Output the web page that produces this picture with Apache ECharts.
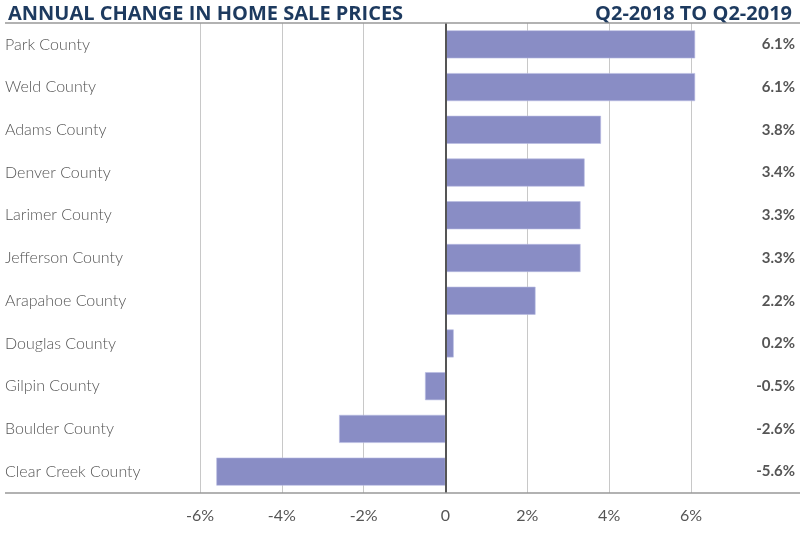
<!DOCTYPE html>
<html><head><meta charset="utf-8">
<script src="https://cdn.jsdelivr.net/npm/echarts@6/dist/echarts.min.js"></script>
<style>html,body{margin:0;padding:0;background:#fff}#c{width:800px;height:540px}</style>
</head><body><div id="c"></div>
<script>
const counties = ["Park County","Weld County","Adams County","Denver County","Larimer County","Jefferson County","Arapahoe County","Douglas County","Gilpin County","Boulder County","Clear Creek County"];
const changes = [6.1, 6.1, 3.8, 3.4, 3.3, 3.3, 2.2, 0.2, -0.5, -2.6, -5.6];
const titleText = "ANNUAL CHANGE IN HOME SALE PRICES";
const periodText = "Q2-2018 TO Q2-2019";

const chart = echarts.init(document.getElementById('c'));
const FONT = 'Lato, "Open Sans", sans-serif';
const TFONT = '"Open Sans", Lato, sans-serif';
chart.setOption({
  animation: false,
  textStyle: {fontFamily: FONT},
  title: [
    {text: titleText, left: 3, top: -1, textStyle: {fontFamily: TFONT, fontSize: 20, fontWeight: 'bold', color: '#1d3a5f'}},
    {text: periodText, right: 3, top: -1, textStyle: {fontFamily: TFONT, fontSize: 20, fontWeight: 'bold', color: '#1d3a5f'}}
  ],
  grid: {left: 200, right: 109, top: 23, bottom: 47, containLabel: false},
  xAxis: {
    type: 'value', min: -6, max: 6, interval: 2,
    axisLine: {show: false}, axisTick: {show: false},
    splitLine: {show: true, lineStyle: {color: '#c8c8c8', width: 1}},
    axisLabel: {margin: 15, fontSize: 16, color: '#555',
      formatter: v => v === 0 ? '0' : v + '%'}
  },
  yAxis: [
    {type: 'category', data: counties, inverse: true,
      axisLine: {show: false}, axisTick: {show: false}, splitLine: {show: false},
      axisLabel: {align: 'left', margin: 195, fontSize: 16, color: '#555', fontWeight: 300, padding: [4, 0, 0, 0]}},
    {type: 'category', data: changes.map(v => v.toFixed(1) + '%'), inverse: true, position: 'right',
      axisLine: {show: false}, axisTick: {show: false}, splitLine: {show: false},
      axisLabel: {align: 'right', margin: 104, fontSize: 15, color: '#555', fontWeight: 'bold', padding: [4, 0, 0, 0]}}
  ],
  series: [{
    type: 'bar', data: changes, barWidth: 28, clip: false,
    itemStyle: {color: '#898dc5', borderColor: '#b9bce2', borderWidth: 0.6},
    markLine: {silent: true, symbol: 'none', label: {show: false},
      lineStyle: {color: '#555', width: 2, type: 'solid'},
      data: [{xAxis: 0}]}
  }],
  graphic: [
    {type: 'line', shape: {x1: 5, y1: 23, x2: 800, y2: 23}, style: {stroke: '#999', lineWidth: 1.5}, z: 10},
    {type: 'line', shape: {x1: 5, y1: 493, x2: 800, y2: 493}, style: {stroke: '#999', lineWidth: 1.5}, z: 10}
  ]
});
</script></body></html>
